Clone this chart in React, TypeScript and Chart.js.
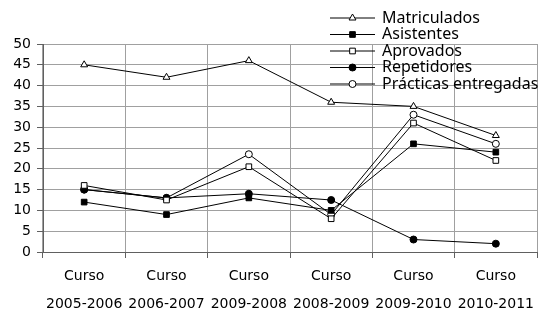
import React, { useEffect, useRef } from "react";
import { Chart, registerables } from "chart.js";

Chart.register(...registerables);

const categories: string[][] = [
  ["Curso", "2005-2006"],
  ["Curso", "2006-2007"],
  ["Curso", "2009-2008"],
  ["Curso", "2008-2009"],
  ["Curso", "2009-2010"],
  ["Curso", "2010-2011"],
];

const matriculados = [45, 42, 46, 36, 35, 28];
const asistentes = [12, 9, 13, 10, 26, 24];
const aprovados = [16, 12.5, 20.5, 8, 31, 22];
const repetidores = [15, 13, 14, 12.5, 3, 2];
const practicas = [15, 13, 23.5, 9, 33, 26];

const seriesNames = ["Matriculados", "Asistentes", "Aprovados", "Repetidores", "Prácticas entregadas"];

const yTicks = [0, 5, 10, 15, 20, 25, 30, 35, 40, 45, 50];

type Marker = { style: string; fill: string; radius: number };
const markers: Marker[] = [
  { style: "triangle", fill: "#ffffff", radius: 4 },
  { style: "rect", fill: "#000000", radius: 4 },
  { style: "rect", fill: "#ffffff", radius: 4 },
  { style: "circle", fill: "#000000", radius: 3.5 },
  { style: "circle", fill: "#ffffff", radius: 3.5 },
];

function drawMarker(ctx: CanvasRenderingContext2D, m: Marker, x: number, y: number) {
  ctx.beginPath();
  if (m.style === "circle") {
    ctx.arc(x, y, m.radius, 0, Math.PI * 2);
  } else if (m.style === "rect") {
    const s = m.radius * Math.SQRT1_2;
    ctx.rect(x - s, y - s, 2 * s, 2 * s);
  } else {
    const r = m.radius;
    ctx.moveTo(x, y - r);
    ctx.lineTo(x + r * 0.866, y + r * 0.5);
    ctx.lineTo(x - r * 0.866, y + r * 0.5);
    ctx.closePath();
  }
  ctx.fillStyle = m.fill;
  ctx.fill();
  ctx.strokeStyle = "#000";
  ctx.lineWidth = 1;
  ctx.stroke();
}

const legendPlugin = {
  id: "customLegend",
  afterDraw(chart: any) {
    const ctx = chart.ctx as CanvasRenderingContext2D;
    ctx.save();
    const x0 = 330;
    const x1 = 375;
    const startY = 18;
    const step = 16.5;
    seriesNames.forEach((name, i) => {
      const y = startY + i * step;
      ctx.strokeStyle = "#000";
      ctx.lineWidth = 1;
      ctx.beginPath();
      ctx.moveTo(x0, y);
      ctx.lineTo(x1, y);
      ctx.stroke();
      drawMarker(ctx, markers[i], (x0 + x1) / 2, y);
      ctx.fillStyle = "#000";
      ctx.font = '16px "Noto Sans"';
      ctx.textAlign = "left";
      ctx.textBaseline = "middle";
      ctx.fillText(name, 382, y);
    });
    ctx.restore();
  },
};

export default function App() {
  const ref = useRef<HTMLCanvasElement>(null);
  useEffect(() => {
    document.body.style.margin = "0";
    const data = [matriculados, asistentes, aprovados, repetidores, practicas];
    const chart = new Chart(ref.current as HTMLCanvasElement, {
      type: "line",
      data: {
        labels: categories,
        datasets: data.map((d, i) => ({
          label: seriesNames[i],
          data: d,
          borderColor: "#000",
          borderWidth: 1,
          backgroundColor: markers[i].fill,
          pointStyle: markers[i].style as any,
          pointRadius: markers[i].radius,
          pointBorderColor: "#000",
          pointBackgroundColor: markers[i].fill,
          pointBorderWidth: 1,
          tension: 0,
          fill: false,
        })),
      },
      options: {
        animation: false,
        responsive: false,
        devicePixelRatio: 1,
        layout: { padding: { top: 44, right: 0, left: 0, bottom: 0 } },
        plugins: { legend: { display: false }, tooltip: { enabled: false } },
        scales: {
          x: {
            offset: true,
            grid: {
              offset: true,
              color: "#a0a0a0",
              lineWidth: 1,
              drawTicks: true,
              tickLength: 6,
              tickColor: "#606060",
            },
            border: { color: "#606060" },
            ticks: {
              color: "#000",
              font: { family: '"DejaVu Sans"', size: 14, lineHeight: 2 },
              maxRotation: 0,
              autoSkip: false,
              padding: 4,
            },
            afterFit(scale: any) {
              scale.height = 59;
            },
          },
          y: {
            min: 0,
            max: 50,
            afterBuildTicks(scale: any) {
              scale.ticks = yTicks.map((v) => ({ value: v }));
            },
            grid: {
              color: "#a0a0a0",
              lineWidth: 1,
              tickLength: 6,
              tickColor: "#606060",
            },
            border: { color: "#606060" },
            ticks: {
              color: "#000",
              font: { family: '"DejaVu Sans"', size: 14 },
              padding: 6,
            },
            afterFit(scale: any) {
              scale.width = 43;
            },
          },
        },
      },
      plugins: [legendPlugin],
    });
    return () => chart.destroy();
  }, []);
  return <canvas ref={ref} width={542} height={311} />;
}
